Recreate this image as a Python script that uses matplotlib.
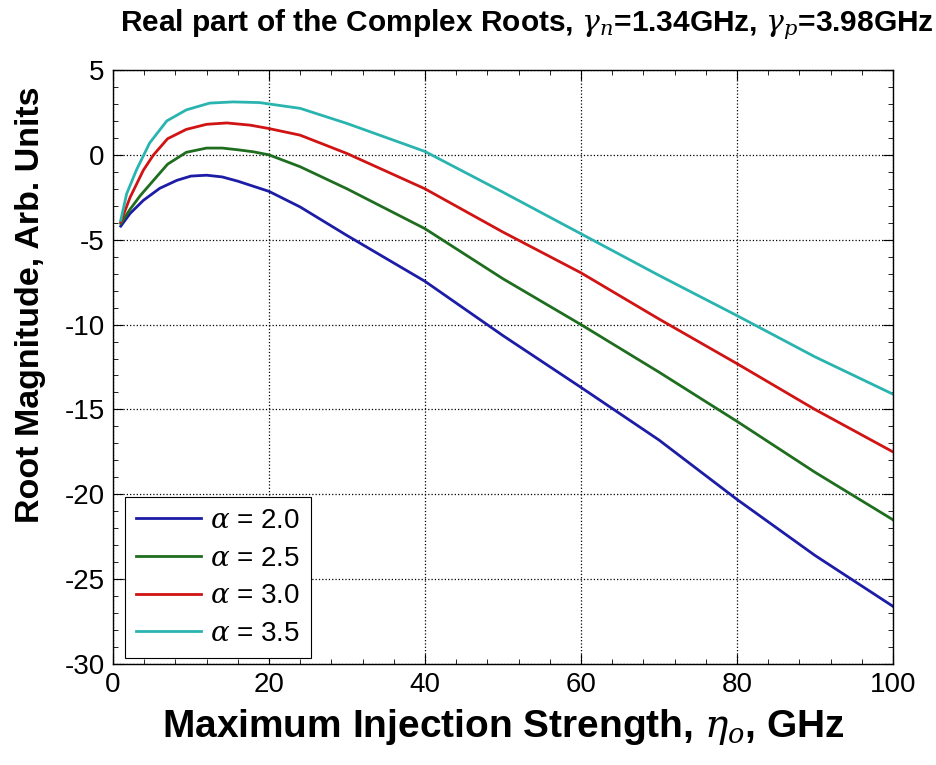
import matplotlib
matplotlib.use("Agg")
import matplotlib.pyplot as plt
from matplotlib.ticker import MultipleLocator

plt.rcParams['font.family'] = ['Liberation Sans', 'DejaVu Sans']
plt.rcParams['mathtext.fontset'] = 'custom'
plt.rcParams['mathtext.it'] = 'DejaVu Serif:italic'
plt.rcParams['mathtext.rm'] = 'Liberation Sans'
plt.rcParams['axes.unicode_minus'] = False

# injection strength samples (GHz) and real part of the root for each alpha
eta_a20 = [1, 2.2, 3.9, 6.0, 8.2, 10, 12, 14, 16, 18, 20, 24, 30, 40, 50, 60, 70, 80, 90, 100]
re_a20 = [-4.2, -3.45, -2.68, -1.97, -1.5, -1.25, -1.2, -1.3, -1.55, -1.85, -2.15, -3.07,
          -4.75, -7.45, -10.65, -13.7, -16.8, -20.3, -23.6, -26.6]

eta_a25 = [1, 2.2, 3.5, 5.2, 7, 9.4, 12, 14, 16, 18, 20, 24, 30, 40, 50, 60, 70, 80, 90, 100]
re_a25 = [-4.05, -3.2, -2.4, -1.5, -0.55, 0.15, 0.4, 0.4, 0.3, 0.18, 0.0, -0.7, -2.0,
          -4.35, -7.3, -10.0, -12.8, -15.7, -18.7, -21.5]

eta_a30 = [1, 2.2, 3.9, 5.2, 7, 9.4, 12, 14.6, 17.6, 20, 24, 30, 40, 50, 60, 70, 80, 90, 100]
re_a30 = [-3.95, -2.5, -0.9, 0.0, 0.95, 1.5, 1.8, 1.88, 1.75, 1.55, 1.16, 0.08, -2.0,
          -4.55, -6.95, -9.67, -12.3, -15.0, -17.5]

eta_a35 = [1, 1.75, 3.0, 4.7, 6.9, 9.4, 12.4, 15.4, 18.8, 20, 24, 30, 40, 50, 60, 70, 80, 90, 100]
re_a35 = [-3.85, -2.3, -0.9, 0.7, 2.0, 2.65, 3.05, 3.12, 3.08, 3.0, 2.74, 1.85, 0.2,
          -2.2, -4.65, -7.1, -9.47, -11.9, -14.1]

labels = [r'$\alpha$ = 2.0', r'$\alpha$ = 2.5', r'$\alpha$ = 3.0', r'$\alpha$ = 3.5']
colors = ['#1c1ca6', '#1f6e1f', '#d01414', '#2ab4b0']

fig = plt.figure(figsize=(9.36, 7.65), dpi=100)
ax = fig.add_axes([0.1207, 0.132, 0.8333, 0.7765])

series = [(eta_a20, re_a20), (eta_a25, re_a25), (eta_a30, re_a30), (eta_a35, re_a35)]
for (x, y), lab, c in zip(series, labels, colors):
    ax.plot(x, y, color=c, lw=2.0, label=lab)

ax.set_xlim(0, 100)
ax.set_ylim(-30, 5)
ax.xaxis.set_major_locator(MultipleLocator(20))
ax.xaxis.set_minor_locator(MultipleLocator(4))
ax.yaxis.set_major_locator(MultipleLocator(5))
ax.yaxis.set_minor_locator(MultipleLocator(1))
ax.tick_params(which='both', direction='in', top=True, right=True)
ax.tick_params(which='major', length=7, labelsize=20, pad=6)
ax.tick_params(which='minor', length=3.5)
ax.grid(True, which='major', linestyle=':', color='k', lw=0.9)
for s in ax.spines.values():
    s.set_linewidth(1.0)

ax.set_xlabel(r'Maximum Injection Strength, $\eta_o$, GHz', fontsize=28, fontweight='bold', labelpad=6)
ax.set_ylabel('Root Magnitude, Arb. Units', fontsize=24.5, fontweight='bold')
ax.yaxis.set_label_coords(-0.086, 0.604)
fig.text(0.563, 0.99, r'Real part of the Complex Roots, $\gamma_n$=1.34GHz, $\gamma_p$=3.98GHz',
         ha='center', va='top', fontsize=21.5, fontweight='bold')

leg = ax.legend(loc='lower left', bbox_to_anchor=(0.0154, 0.0101), borderaxespad=0,
                fontsize=20, handlelength=2.35, handletextpad=0.3, labelspacing=0.42,
                fancybox=False, edgecolor='k', framealpha=1)
leg.get_frame().set_linewidth(0.8)

fig.savefig('out.png', dpi=100)
